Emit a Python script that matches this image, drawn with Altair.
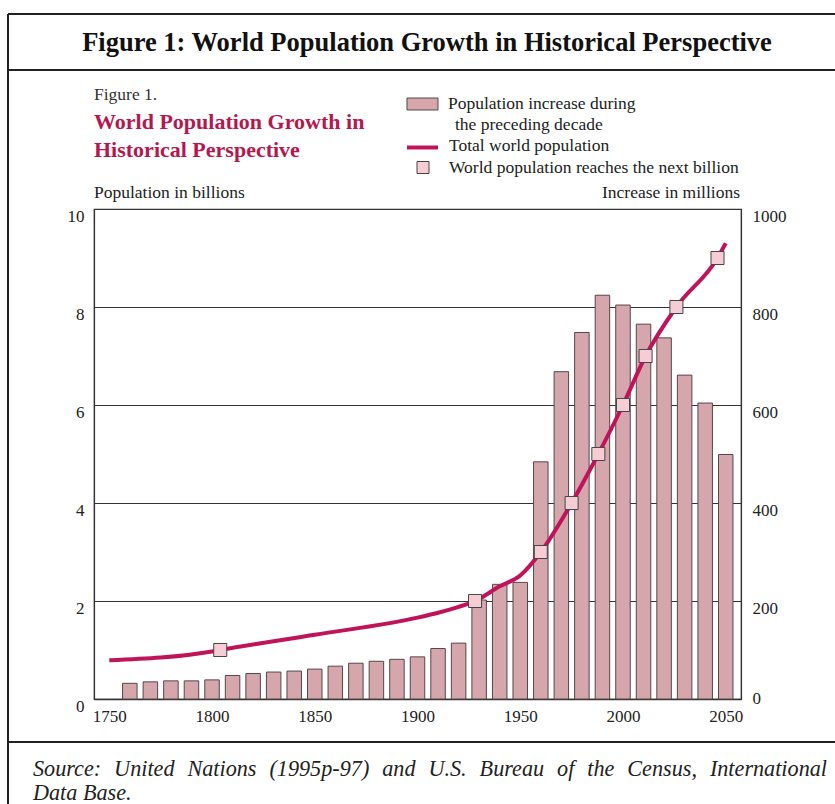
import altair as alt
import pandas as pd

# ---------------- data ----------------
bar_years = [1760, 1770, 1780, 1790, 1800, 1810, 1820, 1830, 1840, 1850,
             1860, 1870, 1880, 1890, 1900, 1910, 1920, 1930, 1940, 1950,
             1960, 1970, 1980, 1990, 2000, 2010, 2020, 2030, 2040, 2050]
increase_millions = [32, 35, 37, 37, 39, 48, 52, 55, 57, 61,
                     67, 73, 77, 81, 86, 103, 114, 202, 234, 238,
                     484, 668, 748, 824, 804, 765, 737, 661, 604, 499]

line_years = [1750, 1800, 1804, 1850, 1900, 1910, 1920, 1928, 1940, 1950,
              1960, 1975, 1988, 2000, 2011, 2026, 2046, 2050]
population_billions = [0.79, 0.97, 1.0, 1.31, 1.66, 1.76, 1.88, 2.0, 2.3, 2.52,
                       3.0, 4.0, 5.0, 6.0, 7.0, 8.0, 9.0, 9.3]

billion_years = [1804, 1928, 1960, 1975, 1988, 2000, 2011, 2026, 2046]
billion_marks = [1, 2, 3, 4, 5, 6, 7, 8, 9]

x_ticks = [1750, 1800, 1850, 1900, 1950, 2000, 2050]
left_ticks = [0, 2, 4, 6, 8, 10]
right_ticks = [0, 200, 400, 600, 800, 1000]

title_text = "Figure 1: World Population Growth in Historical Perspective"
fig_label = "Figure 1."
inner_title = ["World Population Growth in", "Historical Perspective"]
legend_labels = ["Population increase during", "the preceding decade",
                 "Total world population", "World population reaches the next billion"]
left_axis_title = "Population in billions"
right_axis_title = "Increase in millions"
source_lines = ["Source: United Nations (1995p-97) and U.S. Bureau of the Census, International",
                "Data Base."]

# ---------------- styling ----------------
FONT = "Liberation Serif"
BAR_FILL = "#d6a6ad"
BAR_STROKE = "#554749"
LINE_COL = "#c0145a"
MARK_FILL = "#f6cdd4"
CRIMSON = "#b5174f"
TXT = "#222222"

W, H = 647, 490
OX, OY = 94, 209  # plot origin in page pixels

bars_df = pd.DataFrame({"year": bar_years, "increase": increase_millions})
line_df = pd.DataFrame({"year": line_years, "pop": population_billions})
marks_df = pd.DataFrame({"year": billion_years, "pop": billion_marks})

xscale = alt.Scale(domain=[1745, 2055], nice=False, zero=False)
xaxis = alt.Axis(values=x_ticks, format="d", ticks=False, grid=False, title=None,
                 labelFont=FONT, labelFontSize=17, labelColor=TXT, labelPadding=9,
                 domainColor="#333333", domainWidth=1.5)

bars = alt.Chart(bars_df).mark_bar(
    size=14.5, fill=BAR_FILL, stroke=BAR_STROKE, strokeWidth=1
).encode(
    x=alt.X("year:Q", scale=xscale, axis=xaxis),
    y=alt.Y("increase:Q", scale=alt.Scale(domain=[0, 1000], nice=False),
            axis=alt.Axis(orient="right", values=right_ticks, format="d", ticks=False,
                          grid=False, title=None, labelFont=FONT, labelFontSize=17,
                          labelColor=TXT, labelPadding=11,
                          labelOffset={"condition": {"test": "datum.value === 0", "value": -1},
                                       "value": 7},
                          labelAlign="left",
                          domainColor="#333333", domainWidth=1.2)),
)

pop_scale = alt.Scale(domain=[0, 10], nice=False)
pop_axis = alt.Axis(orient="left", values=left_ticks, ticks=False, grid=True,
                    gridColor="#333333", gridWidth=1.2, gridOpacity=1,
                    title=None, labelFont=FONT, labelFontSize=17, labelColor=TXT,
                    labelPadding=10, labelOffset=7,
                    domainColor="#333333", domainWidth=1.2)

line = alt.Chart(line_df).mark_line(
    color=LINE_COL, strokeWidth=4, interpolate="monotone"
).encode(
    x=alt.X("year:Q", scale=xscale, axis=xaxis),
    y=alt.Y("pop:Q", scale=pop_scale, axis=pop_axis),
)

points = alt.Chart(marks_df).mark_point(
    shape="square", filled=True, fill=MARK_FILL, stroke="#444444",
    strokeWidth=1, size=170, opacity=1
).encode(
    x=alt.X("year:Q", scale=xscale, axis=xaxis),
    y=alt.Y("pop:Q", scale=pop_scale, axis=pop_axis),
)

pop_layer = alt.layer(line, points)


def txt(s, x, y, size=17.5, color=TXT, weight="normal", align="left",
        style="normal", font=FONT):
    return alt.Chart(pd.DataFrame({"t": [s]})).mark_text(
        font=font, fontSize=size, color=color, fontWeight=weight, align=align,
        baseline="middle", fontStyle=style
    ).encode(x=alt.value(x - OX), y=alt.value(y - OY), text="t:N")


def rule(x1, y1, x2, y2, w=2, color="#222222"):
    return alt.Chart(pd.DataFrame({"a": [0]})).mark_rule(
        color=color, strokeWidth=w
    ).encode(x=alt.value(x1 - OX), x2=alt.value(x2 - OX),
             y=alt.value(y1 - OY), y2=alt.value(y2 - OY))


# justified-looking first source line (wider word spacing)
src0 = source_lines[0].replace(" ", "\u2002\u200a")

deco = [
    # frame
    rule(8, 14, 835, 14),
    rule(8, 70, 835, 70),
    rule(8, 14, 8, 804),
    rule(8, 742, 835, 742),
    # header title
    txt(title_text, 427, 43, size=26.5, weight="bold", align="center", color="#111111"),
    # inner titles
    txt(fig_label, 94, 95, size=17.5, color="#333333"),
    txt(inner_title[0], 94, 122, size=22, weight="bold", color=CRIMSON),
    txt(inner_title[1], 94, 150, size=22, weight="bold", color=CRIMSON),
    # legend
    alt.Chart(pd.DataFrame({"a": [0]})).mark_rect(
        fill=BAR_FILL, stroke=BAR_STROKE, strokeWidth=1
    ).encode(x=alt.value(407 - OX), x2=alt.value(438 - OX),
             y=alt.value(98 - OY), y2=alt.value(110 - OY)),
    txt(legend_labels[0], 448, 104),
    txt(legend_labels[1], 455, 125),
    rule(407, 147.5, 438, 147.5, w=4, color=LINE_COL),
    txt(legend_labels[2], 449, 146),
    alt.Chart(pd.DataFrame({"a": [0]})).mark_point(
        shape="square", filled=True, fill=MARK_FILL, stroke="#444444",
        strokeWidth=1, size=144, opacity=1
    ).encode(x=alt.value(423 - OX), y=alt.value(167.5 - OY)),
    txt(legend_labels[3], 449, 167.5),
    # axis titles
    txt(left_axis_title, 94, 193),
    txt(right_axis_title, 740, 193, align="right"),
    # source
    txt(src0, 33, 769, size=22.2, style="italic"),
    txt(source_lines[1], 33, 793, size=22.2, style="italic"),
]

chart = alt.layer(bars, pop_layer, *deco).resolve_scale(
    y="independent"
).properties(
    width=W, height=H,
    autosize=alt.AutoSizeParams(type="none"),
    padding={"left": OX, "top": OY, "right": 835 - OX - W, "bottom": 804 - OY - H},
    background="white",
).configure_view(stroke="#333333", strokeWidth=1.2)

chart.save("out.html", embed_options={"renderer": "svg", "actions": False})
